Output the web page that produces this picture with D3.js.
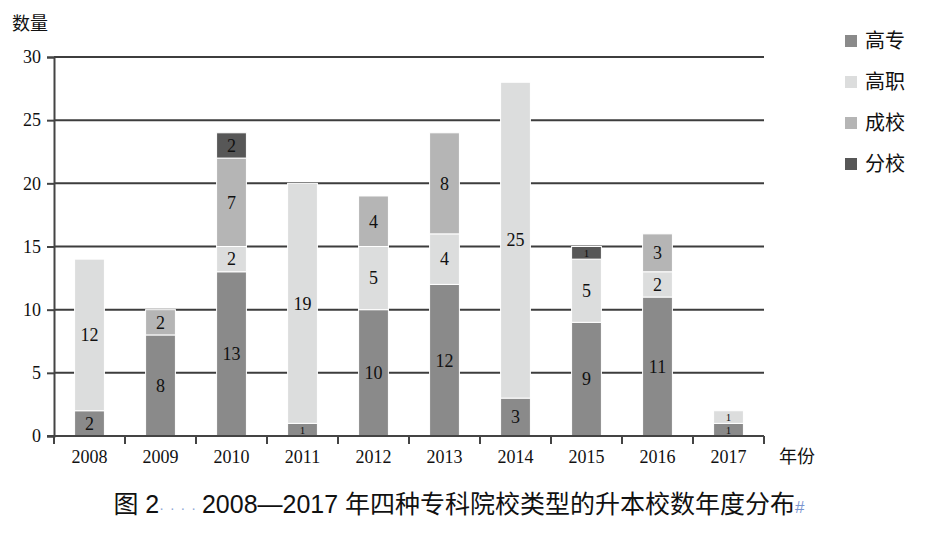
<!DOCTYPE html>
<html>
<head>
<meta charset="utf-8">
<script src="https://cdn.jsdelivr.net/npm/d3@7"></script>
<style>
  body { margin: 0; background: #fff; }
  svg { display: block; }
  .tick text, .num { font-family: "Liberation Serif", "DejaVu Serif", serif; }
  .cjk { font-family: "Noto Sans CJK SC", sans-serif; }
</style>
</head>
<body>
<svg id="chart" width="934" height="537"></svg>
<script>
// chart data
var years = ['2008', '2009', '2010', '2011', '2012', '2013', '2014', '2015', '2016', '2017'];
var types = ['高专', '高职', '成校', '分校'];
var gaozhuan = [2, 8, 13, 1, 10, 12, 3, 9, 11, 1];
var gaozhi   = [12, 0, 2, 19, 5, 4, 25, 5, 2, 1];
var chengxiao = [0, 2, 7, 0, 4, 8, 0, 0, 3, 0];
var fenxiao  = [0, 0, 2, 0, 0, 0, 0, 1, 0, 0];
var yTicks = [0, 5, 10, 15, 20, 25, 30];

var colors = ['#8a8a8a', '#dcdddd', '#b5b5b5', '#575757'];

var svg = d3.select('#chart');
var margin = { left: 54, right: 170, top: 57, bottom: 101 };
var width = 934, height = 537;

var rows = years.map(function (y, i) {
  return { year: y, '高专': gaozhuan[i], '高职': gaozhi[i], '成校': chengxiao[i], '分校': fenxiao[i] };
});
var series = d3.stack().keys(types)(rows);

var x = d3.scaleBand().domain(years).range([margin.left, width - margin.right]).paddingInner(0.58).paddingOuter(0.29);
var band = d3.scaleBand().domain(years).range([margin.left, width - margin.right]);
var y = d3.scaleLinear().domain([0, 30]).range([height - margin.bottom, margin.top]);

// gridlines (behind bars)
svg.append('g').selectAll('line')
  .data(yTicks.filter(function (t) { return t > 0; }))
  .enter().append('line')
  .attr('x1', margin.left).attr('x2', width - margin.right)
  .attr('y1', function (d) { return y(d); }).attr('y2', function (d) { return y(d); })
  .attr('stroke', '#3d3d3d').attr('stroke-width', 2);

// bars
var layer = svg.append('g').selectAll('g')
  .data(series).enter().append('g')
  .attr('fill', function (d, i) { return colors[i]; });

layer.selectAll('rect')
  .data(function (d) { return d.filter(function (s) { return s[1] > s[0]; }); })
  .enter().append('rect')
  .attr('x', function (d) { return x(d.data.year); })
  .attr('width', x.bandwidth())
  .attr('y', function (d) { return y(d[1]); })
  .attr('height', function (d) { return y(d[0]) - y(d[1]); })
  .attr('stroke', '#fff').attr('stroke-width', 1);

layer.selectAll('text')
  .data(function (d) { return d.filter(function (s) { return s[1] > s[0]; }); })
  .enter().append('text')
  .attr('class', 'num')
  .attr('x', function (d) { return x(d.data.year) + x.bandwidth() / 2; })
  .attr('y', function (d) { return (y(d[0]) + y(d[1])) / 2; })
  .attr('dy', '0.35em')
  .attr('text-anchor', 'middle')
  .attr('font-size', function (d) { return (d[1] - d[0]) < 2 ? 11 : 18; })
  .attr('fill', '#111')
  .text(function (d) { return d[1] - d[0]; });

// y axis
var yAxis = svg.append('g')
  .attr('transform', 'translate(' + margin.left + ',0)')
  .call(d3.axisLeft(y).tickValues(yTicks).tickSize(7).tickPadding(6));
yAxis.select('.domain').attr('stroke', '#444').attr('stroke-width', 2);
yAxis.selectAll('.tick line').attr('stroke', '#444').attr('stroke-width', 2);
yAxis.selectAll('.tick text').attr('font-size', 18).attr('fill', '#111');

// x axis with ticks at band boundaries
var xAxisG = svg.append('g').attr('transform', 'translate(0,' + y(0) + ')');
xAxisG.append('line')
  .attr('x1', margin.left - 7).attr('x2', width - margin.right)
  .attr('stroke', '#444').attr('stroke-width', 2);
var bounds = years.map(function (yy) { return band(yy); }).concat([width - margin.right]);
xAxisG.selectAll('line.tk').data(bounds).enter().append('line')
  .attr('class', 'tk')
  .attr('x1', function (d) { return d; }).attr('x2', function (d) { return d; })
  .attr('y1', 0).attr('y2', 8)
  .attr('stroke', '#444').attr('stroke-width', 2);
xAxisG.selectAll('text').data(years).enter().append('text')
  .attr('class', 'num')
  .attr('x', function (d) { return band(d) + band.bandwidth() / 2; })
  .attr('y', 27)
  .attr('text-anchor', 'middle')
  .attr('font-size', 18).attr('fill', '#111')
  .text(function (d) { return d; });

// axis titles
svg.append('text').attr('class', 'cjk').attr('x', 12).attr('y', 30)
  .attr('font-size', 18).attr('fill', '#111').text('数量');
svg.append('text').attr('class', 'cjk').attr('x', 779).attr('y', 463)
  .attr('font-size', 18).attr('fill', '#111').text('年份');

// legend
var legend = svg.append('g').selectAll('g')
  .data(types).enter().append('g')
  .attr('transform', function (d, i) { return 'translate(845,' + (41 + i * 41) + ')'; });
legend.append('rect')
  .attr('x', 0).attr('y', -6).attr('width', 12).attr('height', 12)
  .attr('fill', function (d, i) { return colors[i]; });
legend.append('text').attr('class', 'cjk')
  .attr('x', 20).attr('dy', '0.36em')
  .attr('font-size', 20).attr('fill', '#111')
  .text(function (d) { return d; });

// caption
var cap = svg.append('text')
  .attr('x', 459).attr('y', 513)
  .attr('text-anchor', 'middle')
  .attr('font-size', 25)
  .attr('font-family', '"Liberation Sans", "Noto Sans CJK SC", sans-serif')
  .attr('fill', '#111');
cap.append('tspan').text('图 2');
cap.append('tspan').attr('fill', '#8fa8d8').attr('font-size', 14).attr('letter-spacing', 6).text('····');
cap.append('tspan').text('2008—2017 年四种专科院校类型的升本校数年度分布');
cap.append('tspan').attr('fill', '#7a94cf').attr('font-size', 17).text('#');
</script>
</body>
</html>
